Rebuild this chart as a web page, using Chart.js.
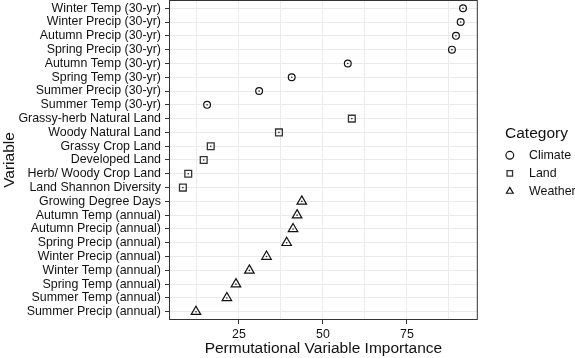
<!DOCTYPE html>
<html>
<head>
<meta charset="utf-8">
<title>Permutational Variable Importance</title>
<script src="https://cdn.jsdelivr.net/npm/chart.js@4.4.0/dist/chart.umd.min.js"></script>
<style>
    html, body { margin: 0; padding: 0; background: #ffffff; }
    canvas { display: block; }
</style>
</head>
<body>
<canvas id="chartCanvas" width="575" height="358"></canvas>
<script>
// Variables by category, top to bottom as in the plot
const climateVars = ["Winter Temp (30-yr)", "Winter Precip (30-yr)", "Autumn Precip (30-yr)", "Spring Precip (30-yr)",
    "Autumn Temp (30-yr)", "Spring Temp (30-yr)", "Summer Precip (30-yr)", "Summer Temp (30-yr)"];
const climateVals = [91.7, 91.0, 89.6, 88.4, 57.4, 40.7, 31.0, 15.5];

const landVars = ["Grassy-herb Natural Land", "Woody Natural Land", "Grassy Crop Land", "Developed Land",
    "Herb/ Woody Crop Land", "Land Shannon Diversity"];
const landVals = [58.6, 36.9, 16.6, 14.5, 9.9, 8.3];

const weatherVars = ["Growing Degree Days", "Autumn Temp (annual)", "Autumn Precip (annual)", "Spring Precip (annual)",
    "Winter Precip (annual)", "Winter Temp (annual)", "Spring Temp (annual)", "Summer Temp (annual)", "Summer Precip (annual)"];
const weatherVals = [43.7, 42.3, 41.1, 39.2, 33.2, 28.1, 24.1, 21.4, 12.2];

const categories = ["Climate", "Land", "Weather"];
const xMajorTicks = [25, 50, 75];
const xMinorTicks = [12.5, 37.5, 62.5, 87.5];

const yLabels = [...climateVars, ...landVars, ...weatherVars];

function toPoints(vars, vals) {
    return vars.map((v, i) => ({ x: vals[i], y: yLabels.indexOf(v) }));
}

const FONT = "'Liberation Sans', Arial, Helvetica, sans-serif";
const allPoints = [
    toPoints(climateVars, climateVals),
    toPoints(landVars, landVals),
    toPoints(weatherVars, weatherVals)
];

// panel border, like ggplot theme_bw
const panelBorder = {
    id: "panelBorder",
    afterDraw(chart) {
        const a = chart.chartArea;
        const ctx = chart.ctx;
        ctx.save();
        ctx.strokeStyle = "#333333";
        ctx.lineWidth = 1;
        ctx.strokeRect(a.left + 0.5, a.top + 0.5, a.right - a.left - 1, a.bottom - a.top - 1);
        ctx.restore();
    }
};

// no extra room for half tick labels at the ends
function noEndPadding(scale) {
    scale.paddingTop = 0;
    scale.paddingBottom = 0;
    scale.paddingLeft = 0;
    scale.paddingRight = 0;
}

const ctx = document.getElementById("chartCanvas").getContext("2d");

new Chart(ctx, {
    type: "scatter",
    data: {
        datasets: [
            {
                label: "  " + categories[0],
                data: allPoints[0],
                pointStyle: "circle",
                pointRadius: 3.4,
                borderColor: "#111111",
                backgroundColor: "rgba(0,0,0,0)",
                borderWidth: 1.2
            },
            {
                label: "  " + categories[1],
                data: allPoints[1],
                pointStyle: "rect",
                pointRadius: 4.8,
                borderColor: "#333333",
                backgroundColor: "rgba(0,0,0,0)",
                borderWidth: 1.3
            },
            {
                label: "  " + categories[2],
                data: allPoints[2],
                pointStyle: "triangle",
                pointRadius: 5.5,
                borderColor: "#111111",
                backgroundColor: "rgba(0,0,0,0)",
                borderWidth: 1.2
            },
            // small centre dots
            ...allPoints.map(pts => ({
                label: "dot",
                data: pts,
                pointStyle: "circle",
                pointRadius: 0.8,
                borderWidth: 0,
                backgroundColor: "#222222"
            }))
        ]
    },
    options: {
        responsive: false,
        animation: false,
        layout: { autoPadding: false, padding: 0 },
        plugins: {
            tooltip: { enabled: false },
            legend: {
                position: "right",
                fullSize: false,
                maxWidth: 77,
                labels: {
                    filter: item => item.datasetIndex < 3,
                    usePointStyle: true,
                    boxHeight: 5.5,
                    padding: 5.6,
                    color: "#111111",
                    font: { family: FONT, size: 12.4 }
                },
                title: {
                    display: true,
                    text: "Category",
                    color: "#111111",
                    padding: { top: 9.5, bottom: -1.5 },
                    font: { family: FONT, size: 15.5 }
                }
            }
        },
        scales: {
            x: {
                type: "linear",
                position: "bottom",
                min: 4.17,
                max: 96.1,
                afterBuildTicks: axis => {
                    axis.ticks = [...xMinorTicks, ...xMajorTicks].sort((a, b) => a - b).map(v => ({ value: v }));
                },
                afterFit: scale => { noEndPadding(scale); scale.height = 38; },
                border: { display: false },
                grid: {
                    color: "#ebebeb",
                    lineWidth: 1,
                    tickLength: 4,
                    tickColor: c => (c.tick && xMajorTicks.includes(c.tick.value)) ? "#333333" : "rgba(0,0,0,0)"
                },
                ticks: {
                    autoSkip: false,
                    maxRotation: 0,
                    padding: 3,
                    color: "#111111",
                    font: { family: FONT, size: 12.4 },
                    callback: v => xMajorTicks.includes(v) ? String(v) : ""
                },
                title: {
                    display: true,
                    text: "Permutational Variable Importance",
                    color: "#111111",
                    padding: 0,
                    font: { family: FONT, size: 15.5 }
                }
            },
            y: {
                type: "linear",
                position: "left",
                reverse: true,
                min: -0.6,
                max: yLabels.length - 0.4,
                afterBuildTicks: axis => {
                    axis.ticks = yLabels.map((_, i) => ({ value: i }));
                },
                afterFit: scale => { noEndPadding(scale); scale.width = 169; },
                border: { display: false },
                grid: {
                    color: "#ebebeb",
                    lineWidth: 1,
                    tickLength: 4,
                    tickColor: "#333333"
                },
                ticks: {
                    autoSkip: false,
                    padding: 4,
                    color: "#111111",
                    font: { family: FONT, size: 12.4 },
                    callback: v => yLabels[v]
                },
                title: {
                    display: true,
                    text: "Variable",
                    color: "#111111",
                    padding: 0,
                    font: { family: FONT, size: 15.5 }
                }
            },
            // empty spacer between the panel and the legend
            gap: {
                type: "linear",
                position: "right",
                display: true,
                afterFit: scale => { noEndPadding(scale); scale.width = 20.2; },
                border: { display: false },
                grid: { display: false },
                ticks: { display: false }
            }
        }
    },
    plugins: [panelBorder]
});
</script>
</body>
</html>
